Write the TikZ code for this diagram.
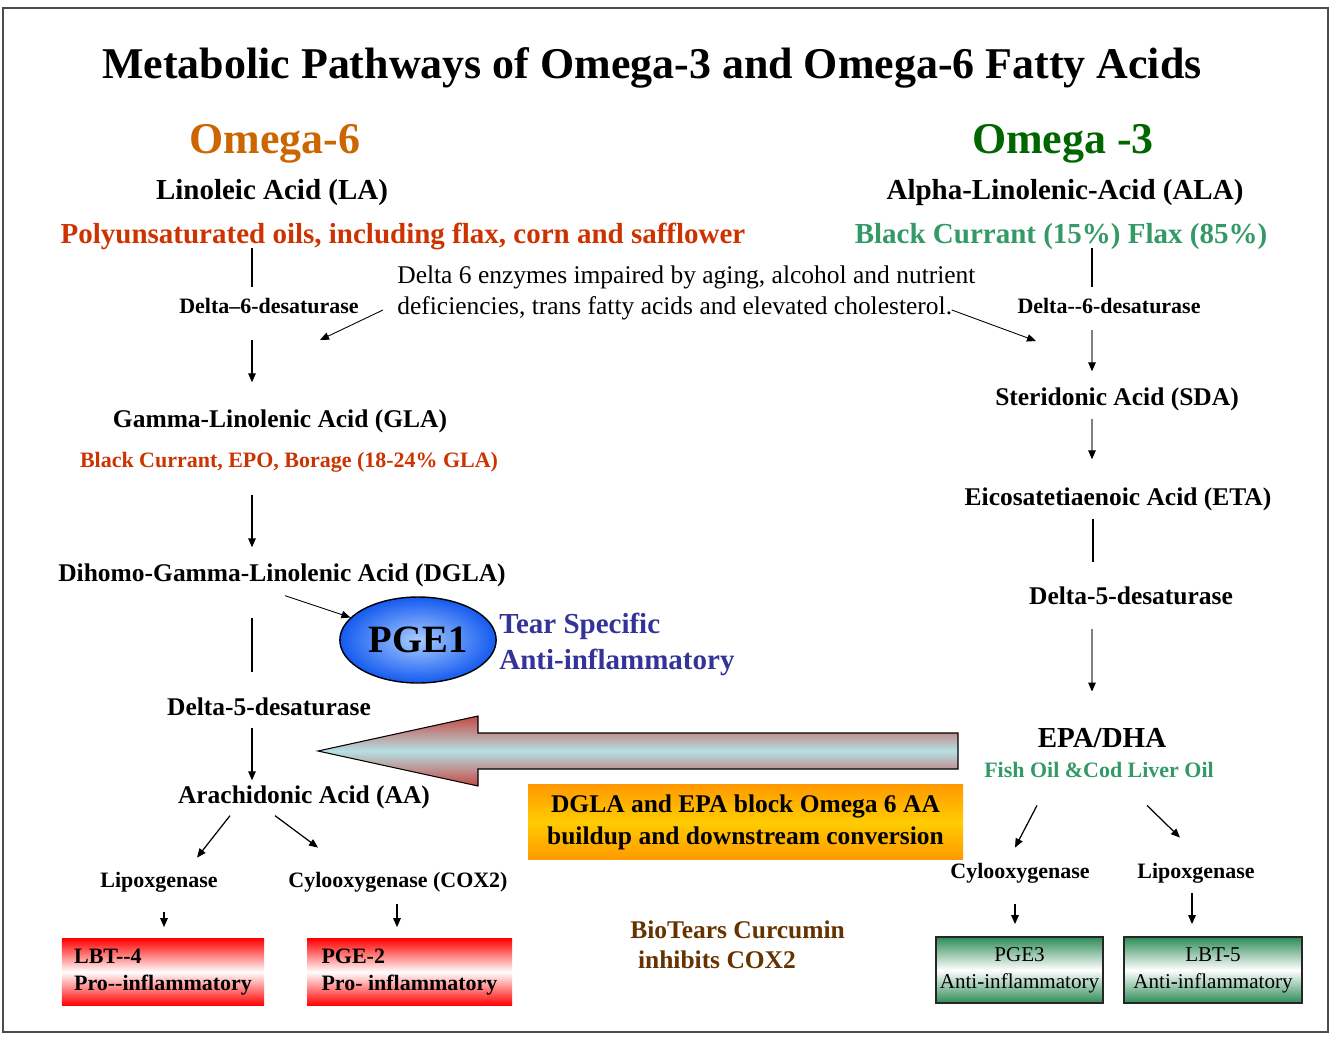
\documentclass[tikz,border=0pt]{standalone}
\usepackage{fontspec}
\setmainfont{Liberation Serif}
\usepackage{tikz}
\usetikzlibrary{positioning, arrows.meta, calc, shapes.geometric}
\definecolor{omsix}{RGB}{204,102,0}
\definecolor{omthree}{RGB}{0,102,0}
\definecolor{srcred}{RGB}{204,51,0}
\definecolor{srcgreen}{RGB}{51,153,102}
\definecolor{tearblue}{RGB}{51,51,153}
\definecolor{curbrown}{RGB}{102,51,0}
\definecolor{pgblue}{RGB}{20,90,240}
\definecolor{pglight}{RGB}{170,205,255}
\definecolor{arrcyan}{RGB}{183,224,228}
\definecolor{arrred}{RGB}{196,72,66}
\definecolor{boxgreen}{RGB}{46,139,87}
\definecolor{boxorange}{RGB}{255,153,0}
\definecolor{boxyellow}{RGB}{255,204,0}
\tikzset{
  titlefont/.style={inner sep=0pt, font=\fontsize{25}{30}\selectfont\bfseries},
  omega/.style={inner sep=0pt, font=\fontsize{25}{30}\selectfont\bfseries},
  acidbig/.style={inner sep=0pt, text height=12pt, text depth=4pt, font=\fontsize{16.5}{20}\selectfont\bfseries},
  acidmid/.style={inner sep=0pt, text height=10.5pt, text depth=3.5pt, font=\fontsize{14.5}{18}\selectfont\bfseries},
  enzlbl/.style={inner sep=0pt, text height=9pt, text depth=3pt, font=\fontsize{12.5}{15}\selectfont\bfseries},
  notetxt/.style={inner sep=0pt, align=left, font=\fontsize{14.5}{18}\selectfont},
  probox/.style={minimum width=#1, minimum height=13.4mm, inner sep=0pt, top color=red, bottom color=red, middle color=white, align=left, font=\fontsize{12.5}{15.4}\selectfont\bfseries},
  antibox/.style={draw=black!85, line width=1pt, minimum width=#1, minimum height=13.2mm, inner sep=0pt, top color=boxgreen, bottom color=boxgreen, middle color=white, align=center, font=\fontsize{12}{15.4}\selectfont},
  blockbox/.style={minimum width=87mm, minimum height=15mm, top color=boxorange, bottom color=boxorange, middle color=boxyellow, align=center, font=\fontsize{14.5}{18.2}\selectfont\bfseries},
  arr/.style={-{Triangle[length=1.8mm,width=1.5mm]}, line width=0.7pt},
  garr/.style={draw=gray, line width=0.7pt, -{Triangle[length=1.8mm,width=1.5mm,color=black]}},
  link/.style={line width=0.7pt}
}
\begin{document}
\begin{tikzpicture}[x=0.2mm, y=-0.2mm]
\useasboundingbox (0,0) rectangle (1331,1036);
\draw[gray!60!black, line width=1pt] (3,8) rectangle (1328,1032);
\node[titlefont] (title) at (652,68) {Metabolic Pathways of Omega-3 and Omega-6 Fatty Acids};
\node[omega, omsix] (om6) at (275,144) {Omega-6};
\node[omega, omthree] (om3) at (1063,144) {Omega -3};
\node[acidbig] (la) at (272,192) {Linoleic Acid (LA)};
\node[acidbig] (ala) at (1065,192) {Alpha-Linolenic-Acid (ALA)};
\node[acidbig, srcred] (oils) at (403,236) {Polyunsaturated oils, including flax, corn and safflower};
\node[acidbig, srcgreen] (alasrc) at (1061,236) {Black Currant (15\%) Flax (85\%)};
% left column
\node[enzlbl] (d6l) at (269,308) {Delta–6-desaturase};
\node[notetxt, anchor=west] (note) at (397,293) {Delta 6 enzymes impaired by aging, alcohol and nutrient\\deficiencies, trans fatty acids and elevated cholesterol.};
\coordinate (hitl) at (320,340);
\coordinate (hitr) at (1036,341);
\node[acidmid] (gla) at (280,421) {Gamma-Linolenic Acid (GLA)};
\node[enzlbl, srcred] (glasrc) at (289,462) {Black Currant, EPO, Borage (18-24\% GLA)};
\node[acidmid] (dgla) at (282,575) {Dihomo-Gamma-Linolenic Acid (DGLA)};
\node[ellipse, draw=black, line width=0.8pt, minimum width=26.4mm, minimum height=17.2mm, inner color=pglight, outer color=pgblue, font=\fontsize{22}{26}\selectfont\bfseries] (pge1) at (418,640) {PGE1};
\node[notetxt, anchor=west, tearblue, font=\fontsize{16.5}{20.5}\selectfont\bfseries] (tear) at (499,644) {Tear Specific\\Anti-inflammatory};
\node[acidmid] (d5l) at (269,709) {Delta-5-desaturase};
\node[acidmid] (aa) at (304,797) {Arachidonic Acid (AA)};
\node[enzlbl] (lipl) at (159,882) {Lipoxgenase};
\node[enzlbl] (coxl) at (398,882) {Cylooxygenase (COX2)};
\node[probox=40.4mm] (lbt4) at (163,972) {LBT-{}-4\\Pro-{}-inflammatory};
\node[probox=41mm] (pge2) at (409.5,972) {PGE-2\\Pro- inflammatory};
% middle
\draw[line width=0.6pt, top color=arrred, bottom color=arrred, middle color=arrcyan] (318,751) -- (478,716) -- (478,733) -- (958,733) -- (958,769) -- (478,769) -- (478,786) -- cycle;
\node[blockbox] (block) at (745.5,822) {DGLA and EPA block Omega 6 AA\\ buildup and downstream conversion};
\node[notetxt, anchor=west, curbrown, font=\fontsize{14.5}{17}\selectfont\bfseries] (curc) at (630,945) {BioTears Curcumin\\\hspace{0.3em}inhibits COX2};
% right column
\node[enzlbl] (d6r) at (1109,308) {Delta-{}-6-desaturase};
\node[acidmid] (sda) at (1117,399) {Steridonic Acid (SDA)};
\node[acidmid] (eta) at (1118,499) {Eicosatetiaenoic Acid (ETA)};
\node[acidmid] (d5r) at (1131,598) {Delta-5-desaturase};
\node[acidbig] (epa) at (1102,740) {EPA/DHA};
\node[enzlbl, srcgreen] (fish) at (1099,772) {Fish Oil \&Cod Liver Oil};
\node[enzlbl] (coxr) at (1020,873) {Cylooxygenase};
\node[enzlbl] (lipr) at (1196,873) {Lipoxgenase};
\node[antibox=33.4mm] (pge3) at (1019.5,970) {PGE3\\Anti-inflammatory};
\node[antibox=35.6mm] (lbt5) at (1213,970) {LBT-5\\Anti-inflammatory};
\coordinate (coll) at (252,0);
\coordinate (colr) at (1092,0);
% connectors
\draw[link, shorten <=-0.5mm, shorten >=2.1mm] (oils.south -| coll) -- (d6l.north -| coll);
\draw[arr, shorten <=4.3mm, shorten >=5.2mm] (d6l.south -| coll) -- (gla.north -| coll);
\draw[arr, shorten <=4.5mm, shorten >=3mm] (glasrc.south -| coll) -- (dgla.north -| coll);
\draw[link, shorten <=6mm, shorten >=4.8mm] (dgla.south -| coll) -- (d5l.north -| coll);
\draw[arr, shorten <=1.2mm, shorten >=0.8mm] (d5l.south -| coll) -- (aa.north -| coll);
\draw[arr] ($(aa.south)+(-74,6)$) -- ($(lipl.north)+(38,-13.5)$);
\draw[arr] ($(aa.south)+(-29,6)$) -- ($(coxl.north)+(-80,-23.5)$);
\draw[arr, shorten <=3.9mm, shorten >=2.2mm] (lipl.south -| 164,0) -- (lbt4.north -| 164,0);
\draw[arr, shorten <=2.3mm, shorten >=2.2mm] (coxl.south -| 397,0) -- (pge2.north -| 397,0);
\draw[arr, line width=0.5pt] ($(note.west)+(-14,17)$) -- (hitl);
\draw[arr, line width=0.5pt] ($(note.east)+(-24,17)$) -- (hitr);
\draw[arr, line width=0.5pt] ($(dgla.south)+(3,8)$) -- (pge1);
\draw[link, shorten <=-0.5mm, shorten >=2.1mm] (alasrc.south -| colr) -- (d6r.north -| colr);
\draw[garr, shorten <=2.3mm, shorten >=3mm] (d6r.south -| colr) -- (sda.north -| colr);
\draw[garr, shorten <=1.4mm, shorten >=5.4mm] (sda.south -| colr) -- (eta.north -| colr);
\draw[link, shorten <=1.4mm, shorten >=4.6mm] (eta.south -| 1093,0) -- (d5r.north -| 1093,0);
\draw[garr, shorten <=3.6mm, shorten >=6.8mm] (d5r.south -| colr) -- (epa.north -| colr);
\draw[arr] ($(fish.south)+(-62,22.5)$) -- ($(coxr.north)+(-5,-14.5)$);
\draw[arr] ($(fish.south)+(48,22.5)$) -- ($(lipr.north)+(-16,-24.5)$);
\draw[arr, shorten <=4.1mm, shorten >=2.4mm] (coxr.south -| 1015,0) -- (pge3.north -| 1015,0);
\draw[arr, shorten <=1.9mm, shorten >=2.4mm] (lipr.south -| 1192,0) -- (lbt5.north -| 1192,0);
\end{tikzpicture}
\end{document}
